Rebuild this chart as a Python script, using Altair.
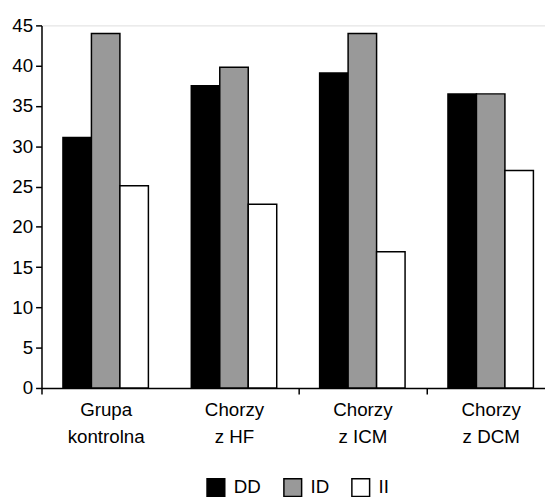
import altair as alt
import pandas as pd

groups = ["Grupa|kontrolna", "Chorzy|z HF", "Chorzy|z ICM", "Chorzy|z DCM"]
series = ["DD", "ID", "II"]
dd = [31.1, 37.5, 39.1, 36.5]
id_ = [44.0, 39.8, 44.0, 36.5]
ii = [25.1, 22.8, 16.9, 27.0]
colors = ["#000000", "#999999", "#ffffff"]
y_ticks = [0, 5, 10, 15, 20, 25, 30, 35, 40, 45]

rows = []
for s, vals in zip(series, [dd, id_, ii]):
    for g, v in zip(groups, vals):
        rows.append({"grupa": g, "genotyp": s, "wartosc": v})
df = pd.DataFrame(rows)

FONT = "Liberation Sans, Arial, sans-serif"

bars = alt.Chart(df).mark_bar(stroke="black", strokeWidth=1.5).encode(
    x=alt.X("grupa:N", sort=groups,
            scale=alt.Scale(range=[0, 521], paddingInner=0, paddingOuter=0),
            axis=alt.Axis(title=None, labelAngle=0, tickBand="extent",
                          domain=True, domainColor="black", domainWidth=1.5,
                          tickColor={"condition": {"test": "datum.value === 'Grupa|kontrolna'",
                                                   "value": "transparent"},
                                     "value": "black"},
                          tickWidth=1.5, tickSize=6,
                          labelPadding=7, labelFontSize=19, labelLineHeight=27,
                          labelColor="black", labelFont=FONT, labelLimit=0,
                          labelExpr="isString(datum.value) ? split(datum.value, '|') : ''")),
    xOffset=alt.XOffset("genotyp:N", sort=series,
                        scale=alt.Scale(paddingInner=0, paddingOuter=0.753)),
    y=alt.Y("wartosc:Q",
            scale=alt.Scale(domain=[0, 45], nice=False),
            axis=alt.Axis(title=None, values=y_ticks, grid=False,
                          domainColor="black", domainWidth=1.5,
                          tickColor="black", tickWidth=1.5, tickSize=6,
                          labelPadding=3, labelFontSize=19, labelColor="black",
                          labelFont=FONT)),
    fill=alt.Fill("genotyp:N", sort=series,
                  scale=alt.Scale(domain=series, range=colors),
                  legend=alt.Legend(title=None, orient="none", legendX=167, legendY=459,
                                    direction="horizontal", symbolType="square",
                                    symbolSize=324, symbolStrokeColor="black",
                                    symbolStrokeWidth=1.5, labelFontSize=19,
                                    labelFont=FONT, labelColor="black",
                                    labelOffset=8, columnPadding=20)),
)

chart = bars.properties(
    width=511, height=368,
    autosize=alt.AutoSizeParams(type="none"),
    padding={"left": 34, "top": 14, "right": 0, "bottom": 108},
).configure_view(strokeWidth=0, stroke="transparent").configure(font=FONT, background="white")

chart.save("out.html", embed_options={"renderer": "svg", "actions": False})
